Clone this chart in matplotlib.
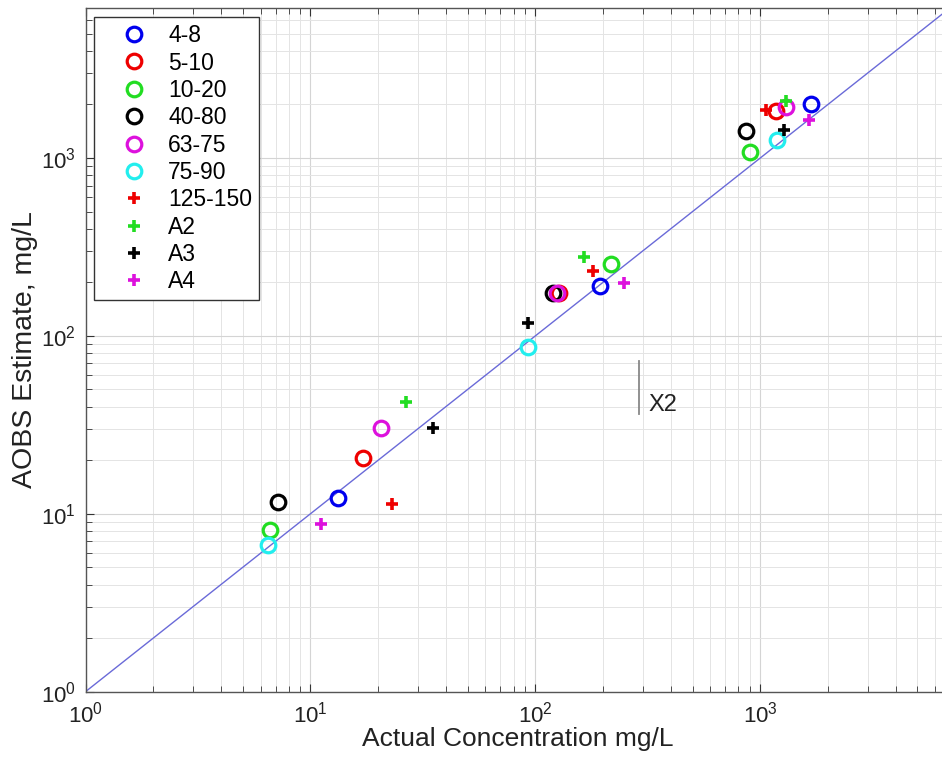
import numpy as np
import matplotlib
matplotlib.use('Agg')
import matplotlib.pyplot as plt
from matplotlib.ticker import LogLocator, FixedFormatter, NullFormatter

plt.rcParams['font.family'] = ['Liberation Sans', 'DejaVu Sans']

# measured (x) vs AOBS estimate (y), mg/L, one pair of lists per series
labels = ['4-8', '5-10', '10-20', '40-80', '63-75', '75-90',
          '125-150', 'A2', 'A3', 'A4']
x_48 = [13.2, 193, 1690]
y_48 = [12.3, 191, 2000]
x_510 = [17.1, 128, 1180]
y_510 = [20.5, 174, 1840]
x_1020 = [6.6, 218, 905]
y_1020 = [8.1, 253, 1085]
x_4080 = [7.2, 120, 868]
y_4080 = [11.6, 174, 1420]
x_6375 = [20.7, 125, 1300]
y_6375 = [30.5, 174, 1940]
x_7590 = [6.5, 93, 1188]
y_7590 = [6.7, 87, 1262]
x_125 = [23.0, 181, 1066]
y_125 = [11.3, 233, 1860]
x_a2 = [26.5, 165, 1300]
y_a2 = [42.7, 277, 2100]
x_a3 = [35.1, 92.3, 1271]
y_a3 = [30.2, 118, 1436]
x_a4 = [11.1, 248, 1648]
y_a4 = [8.8, 199, 1636]

xs = [x_48, x_510, x_1020, x_4080, x_6375, x_7590, x_125, x_a2, x_a3, x_a4]
ys = [y_48, y_510, y_1020, y_4080, y_6375, y_7590, y_125, y_a2, y_a3, y_a4]
colors = ['#0000ee', '#ee0000', '#22dd22', '#000000', '#dd11dd', '#22eeee',
          '#ee0000', '#22dd22', '#000000', '#dd11dd']
markers = ['o'] * 6 + ['+'] * 4

# factor-of-two scale bar
x2_x = 288
x2_y = [36.5, 72]

lim = [1, 7000]
decade_ticks = [1, 10, 100, 1000]
decade_labels = [r'$\mathregular{10^{0}}$', r'$\mathregular{10^{1}}$',
                 r'$\mathregular{10^{2}}$', r'$\mathregular{10^{3}}$']

fig = plt.figure(figsize=(9.42, 7.62), dpi=100)
ax = fig.add_axes([0.0908, 0.0923, 0.918, 0.8976])

for xv, yv, c, m, lab in zip(xs, ys, colors, markers, labels):
    if m == 'o':
        ax.plot(xv, yv, 'o', mfc='none', mec=c, ms=10.5, mew=2.3,
                label=lab, zorder=3)
    else:
        ax.plot(xv, yv, '+', color=c, ms=9, mew=2.6, label=lab, zorder=3)

ax.plot(lim, lim, color='#6a6ad8', lw=1.0, zorder=2)

ax.plot([x2_x, x2_x], x2_y, color='#888888', lw=1.3, zorder=2)
ax.text(x2_x * 1.11, np.sqrt(x2_y[0] * x2_y[1]) * 0.80, 'X2',
        fontsize=17, color='#222222', va='center', ha='left')

ax.set_xscale('log')
ax.set_yscale('log')
ax.set_xlim(lim)
ax.set_ylim(lim)

ax.set_xticks(decade_ticks)
ax.xaxis.set_major_formatter(FixedFormatter(decade_labels))
ax.set_yticks(decade_ticks)
ax.yaxis.set_major_formatter(FixedFormatter(decade_labels))
for axis in (ax.xaxis, ax.yaxis):
    axis.set_minor_locator(LogLocator(base=10, subs=np.arange(2, 10), numticks=20))
    axis.set_minor_formatter(NullFormatter())

ax.tick_params(which='both', direction='in', top=True, right=True,
               labelsize=16, colors='#333333', labelcolor='#222222')
ax.tick_params(which='major', length=6, width=0.8, pad=7)
ax.tick_params(which='minor', length=4, width=0.6)

ax.grid(which='major', color='#d4d4d4', lw=0.8)
ax.grid(which='minor', color='#e4e4e4', lw=0.7)
ax.set_axisbelow(True)
for s in ax.spines.values():
    s.set_color('#555555')
    s.set_linewidth(1.0)

ax.set_xlabel('Actual Concentration mg/L', fontsize=19, color='#222222', labelpad=0)
ax.set_ylabel('AOBS Estimate, mg/L', fontsize=20.5, color='#222222', labelpad=2)

leg = ax.legend(loc='upper left', bbox_to_anchor=(0.0095, 0.986), fontsize=16.5,
                fancybox=False, framealpha=1, edgecolor='#333333',
                labelspacing=0.19, handletextpad=0.05, handlelength=2.9,
                borderpad=0.3, borderaxespad=0)
leg.get_frame().set_linewidth(1.0)

fig.savefig('out.png', dpi=100)
